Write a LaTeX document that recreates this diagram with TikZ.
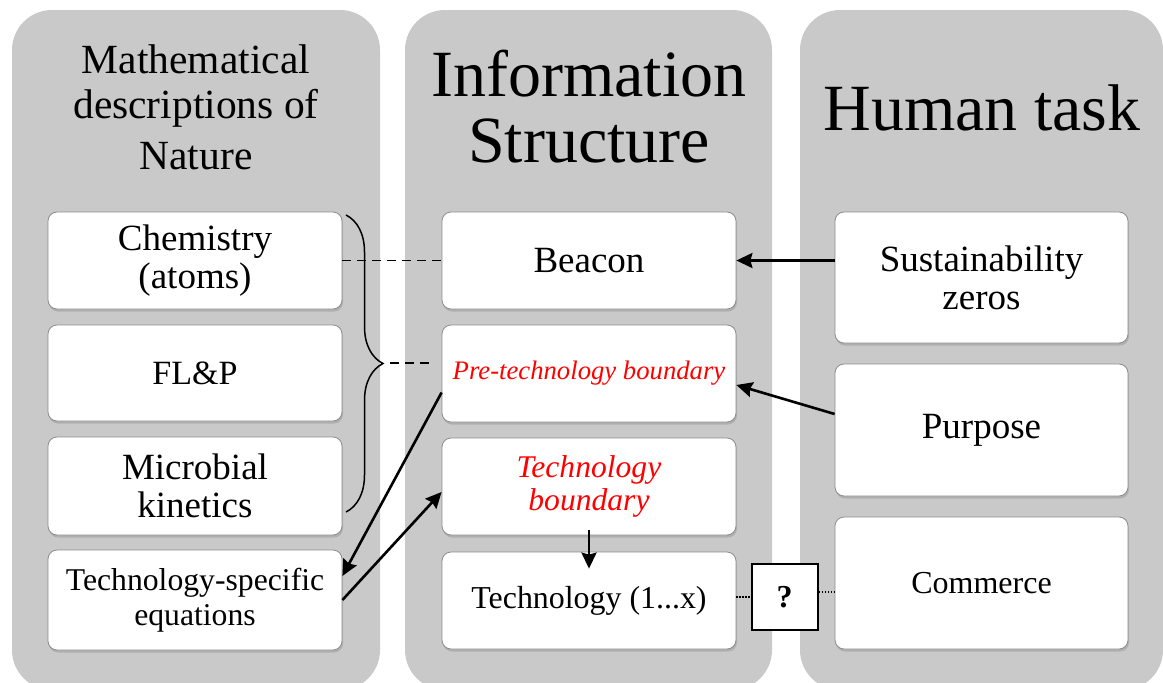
\documentclass[tikz,border=0pt]{standalone}
\usepackage{fontspec}
\setmainfont{Liberation Serif}
\usetikzlibrary{positioning,arrows.meta,shadows,decorations.pathreplacing}
\definecolor{panelgray}{RGB}{201,201,201}
\definecolor{boxedge}{RGB}{140,140,140}

\begin{document}
\begin{tikzpicture}[x=1pt,y=-1pt,
    panel/.style={fill=panelgray, rounded corners=40pt},
    box/.style={draw=boxedge, fill=white, line width=0.8pt, rounded corners=9pt,
        minimum width=294pt, minimum height=97pt, align=center, inner sep=0pt,
        drop shadow={shadow xshift=1pt, shadow yshift=-2.5pt, opacity=0.35}},
    big/.style={font=\fontsize{37pt}{38pt}\selectfont},
    arr/.style={line width=2.6pt, -{Stealth[length=16pt,width=15pt,inset=2pt]}},
    dashline/.style={line width=1.5pt, dash pattern=on 9pt off 6pt},
    dotline/.style={line width=1.2pt, dash pattern=on 1.5pt off 1.5pt}]
	\useasboundingbox (0,0) rectangle (1163,683);
	\fill[panel] (12,10) rectangle (380,690);
	\fill[panel] (405,10) rectangle (772,690);
	\fill[panel] (800,10) rectangle (1163,690);

	\node[font=\fontsize{41.5pt}{45pt}\selectfont, align=center, anchor=north, inner sep=0pt] (mathtitle) at (196,45) {Mathematical\\descriptions of\\[6pt]Nature};
	\node[font=\fontsize{66pt}{66pt}\selectfont, align=center, anchor=north, inner sep=0pt] (infotitle) at (589,50) {Information\\Structure};
	\node[font=\fontsize{66pt}{66pt}\selectfont, anchor=north, inner sep=0pt] (humantitle) at (982,85) {Human task};

	\node[box, big] (chem) at (195,260.5) {Chemistry\\(atoms)};
	\node[box, font=\fontsize{34pt}{36pt}\selectfont, minimum height=96pt] (flp) at (195,373) {FL\&P};
	\node[box, big, minimum height=98pt] (microbial) at (195,486) {Microbial\\kinetics};
	\node[box, minimum height=100pt, font=\fontsize{31.7pt}{35pt}\selectfont] (techspec) at (195,600) {Technology-specific\\equations};

	\node[box, big] (beacon) at (589,260.5) {Beacon};
	\node[box, font=\itshape\fontsize{26.7pt}{28pt}\selectfont, text=red] (pretech) at (589,373.5) {Pre-technology boundary};
	\node[box, font=\itshape\fontsize{31.6pt}{33pt}\selectfont, text=red] (techbound) at (589,486.5) {Technology\\boundary};
	\node[box, font=\fontsize{31.9pt}{33pt}\selectfont] (techx) at (589,600.5) {Technology (1...x)};

	\node[box, big, minimum width=293pt, minimum height=131pt] (sust) at (981.5,277.5) {Sustainability\\zeros};
	\node[box, big, minimum width=293pt, minimum height=132pt] (purpose) at (981.5,430) {Purpose};
	\node[box, font=\fontsize{32pt}{34pt}\selectfont, minimum width=293pt, minimum height=132pt] (commerce) at (981.5,583) {Commerce};

	\node[draw, fill=white, line width=2pt, minimum size=66pt, inner sep=0pt, font=\bfseries\fontsize{32pt}{34pt}\selectfont] (q) at (784.5,597) {?};

	\coordinate (brtop) at (346,215);
	\coordinate (brbot) at (346,512);
	\coordinate (brtip) at (390,363);
	\draw[line width=1.5pt, decorate, decoration={brace, amplitude=37pt}] (brtop) -- (brbot);
	\draw[dashline] (chem.east) -- (beacon.west);
	\draw[dashline, shorten >=12pt] (brtip) -- (pretech.west |- brtip);

	\draw[arr] (sust.west |- beacon.east) -- (beacon.east);
	\draw[arr] ([yshift=16pt]purpose.west) -- ([yshift=-11.5pt]pretech.east);
	\draw[arr] ([yshift=-19pt]pretech.west) -- ([yshift=24pt]techspec.east);
	\draw[arr] (techspec.east) -- ([yshift=-5.5pt]techbound.west);
	\draw[arr] ([yshift=5pt]techbound.south) -- ([yshift=-17pt]techx.north);

	\draw[dotline] (techx.east |- q.west) -- (q.west);
	\draw[dotline] ([yshift=5pt]q.east) -- ([yshift=5pt]commerce.west |- q.east);
\end{tikzpicture}
\end{document}
